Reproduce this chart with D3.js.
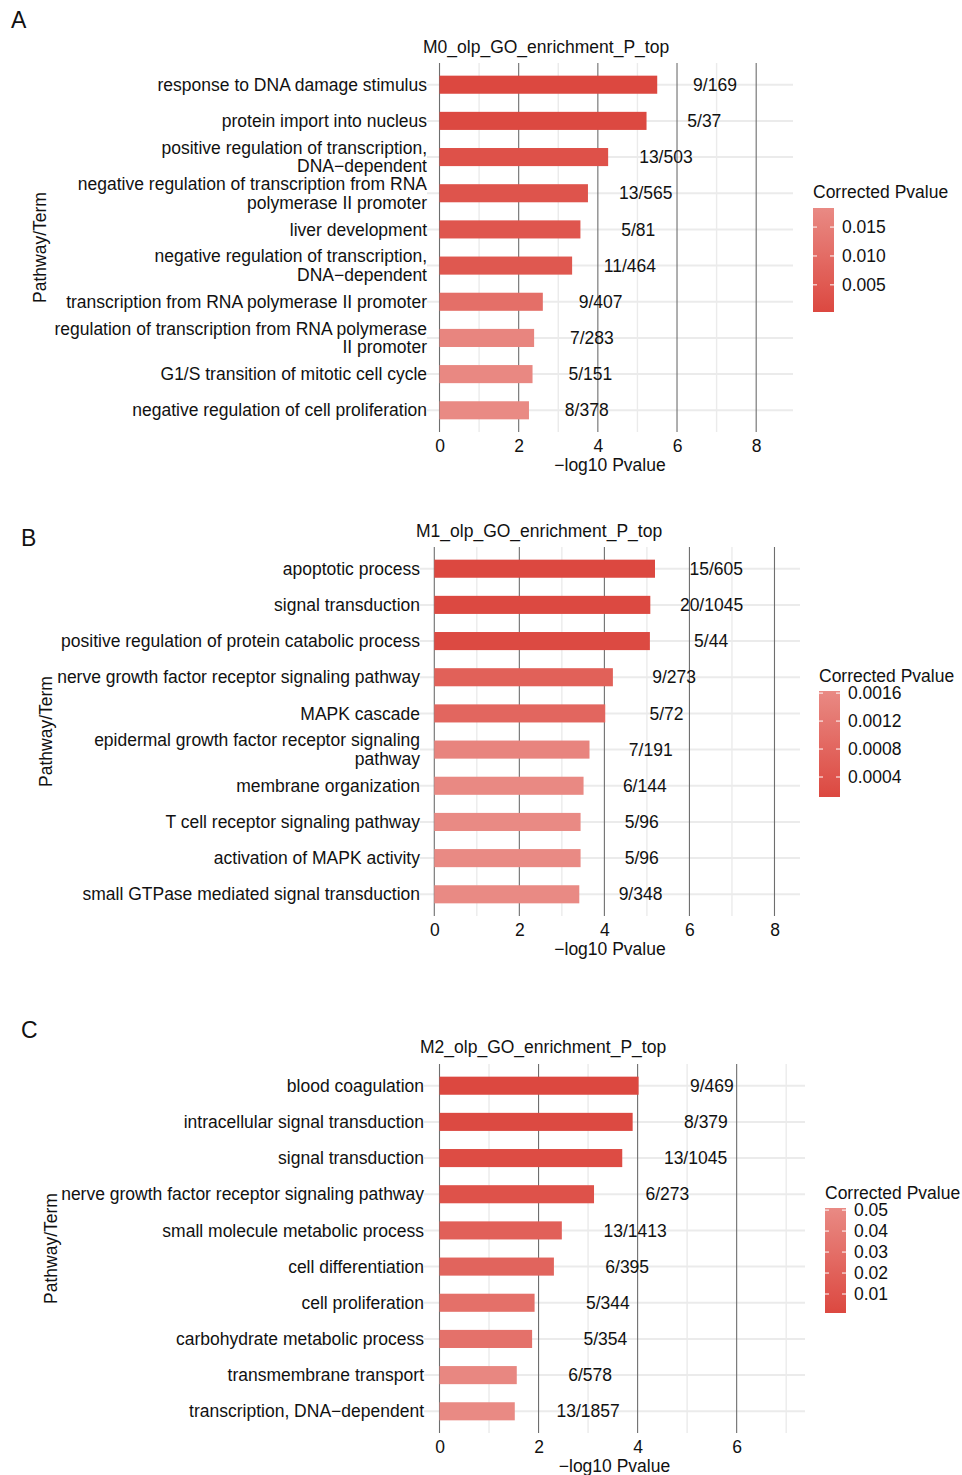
<!DOCTYPE html>
<html>
<head>
<meta charset="utf-8">
<script src="https://d3js.org/d3.v7.min.js"></script>
<style>
  * { margin: 0; padding: 0; }
  body { background: #fff; }
  text { font-family: "Liberation Sans", Arial, sans-serif; fill: #111; }
</style>
</head>
<body>
<div id="chart"></div>
<script>
// ---- data ----
const termsA = [
  "response to DNA damage stimulus",
  "protein import into nucleus",
  "positive regulation of transcription,\nDNA\u2212dependent",
  "negative regulation of transcription from RNA\npolymerase II promoter",
  "liver development",
  "negative regulation of transcription,\nDNA\u2212dependent",
  "transcription from RNA polymerase II promoter",
  "regulation of transcription from RNA polymerase\nII promoter",
  "G1/S transition of mitotic cell cycle",
  "negative regulation of cell proliferation"
];
const logpA = [5.50, 5.23, 4.26, 3.75, 3.56, 3.35, 2.61, 2.39, 2.35, 2.26];
const padjA = [0.0003, 0.0005, 0.0028, 0.0036, 0.0040, 0.0046, 0.0110, 0.0170, 0.0178, 0.0183];
const ratioA = ["9/169", "5/37", "13/503", "13/565", "5/81", "11/464", "9/407", "7/283", "5/151", "8/378"];
const legendTicksA = [0.005, 0.010, 0.015];

const termsB = [
  "apoptotic process",
  "signal transduction",
  "positive regulation of protein catabolic process",
  "nerve growth factor receptor signaling pathway",
  "MAPK cascade",
  "epidermal growth factor receptor signaling\npathway",
  "membrane organization",
  "T cell receptor signaling pathway",
  "activation of MAPK activity",
  "small GTPase mediated signal transduction"
];
const logpB = [5.19, 5.08, 5.07, 4.20, 4.02, 3.65, 3.51, 3.44, 3.44, 3.41];
const padjB = [0.000114, 0.00014, 0.00015, 0.00068, 0.00080, 0.00150, 0.00160, 0.00162, 0.00162, 0.00163];
const ratioB = ["15/605", "20/1045", "5/44", "9/273", "5/72", "7/191", "6/144", "5/96", "5/96", "9/348"];
const legendTicksB = [0.0004, 0.0008, 0.0012, 0.0016];

const termsC = [
  "blood coagulation",
  "intracellular signal transduction",
  "signal transduction",
  "nerve growth factor receptor signaling pathway",
  "small molecule metabolic process",
  "cell differentiation",
  "cell proliferation",
  "carbohydrate metabolic process",
  "transmembrane transport",
  "transcription, DNA\u2212dependent"
];
const logpC = [4.02, 3.90, 3.69, 3.12, 2.47, 2.31, 1.92, 1.87, 1.56, 1.52];
const padjC = [0.00095, 0.0021, 0.0037, 0.0085, 0.019, 0.022, 0.031, 0.032, 0.049, 0.051];
const ratioC = ["9/469", "8/379", "13/1045", "6/273", "13/1413", "6/395", "5/344", "5/354", "6/578", "13/1857"];
const legendTicksC = [0.01, 0.02, 0.03, 0.04, 0.05];

const lowColor = "#dc4840", highColor = "#e98a84";
const fs = "17.5px";

const svg = d3.select("#chart").append("svg")
  .attr("width", 962).attr("height", 1475);

function drawPanel(p) {
  const g = svg.append("g");

  const x = d3.scaleLinear().domain(p.xDomain).range([p.left, p.right]);
  const y = d3.scalePoint().domain(p.terms).range([p.top, p.bottom]).padding(0.6);
  const barH = y.step() * 0.5;
  const color = d3.scaleLinear().domain(d3.extent(p.padj)).range([lowColor, highColor]);

  // horizontal grid
  g.selectAll(".hgrid").data(p.terms).join("line")
    .attr("x1", p.left).attr("x2", p.right)
    .attr("y1", d => y(d)).attr("y2", d => y(d))
    .attr("stroke", "#ebebeb").attr("stroke-width", 2);

  // vertical grid: minor light, major dark
  const lo = Math.ceil(p.xDomain[0]), hi = Math.floor(p.xDomain[1]);
  const ints = d3.range(lo, hi + 1);
  g.selectAll(".vgrid").data(ints).join("line")
    .attr("x1", d => x(d)).attr("x2", d => x(d))
    .attr("y1", p.top).attr("y2", p.bottom)
    .attr("stroke", d => d % 2 === 0 ? "#6e6e6e" : "#ebebeb")
    .attr("stroke-width", d => d % 2 === 0 ? 1.1 : 1.4);

  // bars
  g.selectAll(".bar").data(p.terms).join("rect")
    .attr("x", x(0))
    .attr("y", d => y(d) - barH / 2)
    .attr("width", (d, i) => x(p.vals[i]) - x(0))
    .attr("height", barH)
    .attr("fill", (d, i) => color(p.padj[i]));

  // count labels
  g.selectAll(".ratio").data(p.terms).join("text")
    .attr("x", (d, i) => x(p.vals[i] + p.labelOffset))
    .attr("y", d => y(d))
    .attr("dy", "0.35em")
    .attr("text-anchor", "middle")
    .style("font-size", fs)
    .text((d, i) => p.ratios[i]);

  // category labels
  const lab = g.selectAll(".term").data(p.terms).join("text")
    .attr("text-anchor", "end")
    .style("font-size", fs);
  lab.each(function (d) {
    const lines = d.split("\n");
    const t = d3.select(this);
    lines.forEach((ln, k) => {
      t.append("tspan")
        .attr("x", p.left)
        .attr("y", y(d) + (k - (lines.length - 1) / 2) * 18.5)
        .attr("dy", "0.35em")
        .text(ln);
    });
  });

  // x tick labels
  const xAxis = d3.axisBottom(x).tickValues(d3.range(0, hi + 1, 2)).tickSize(0).tickPadding(0);
  const ax = g.append("g").attr("transform", `translate(0,${p.tickY})`).call(xAxis);
  ax.select(".domain").remove();
  ax.selectAll("text").style("font-size", fs).attr("fill", "#111").attr("dy", 0).attr("y", 0)
    .style("font-family", '"Liberation Sans", Arial, sans-serif');

  // axis titles
  g.append("text").attr("x", (p.left + p.right) / 2).attr("y", p.axisTitleY)
    .attr("text-anchor", "middle").style("font-size", fs).text("\u2212log10 Pvalue");
  g.append("text").attr("transform", `translate(${p.yTitleX},${(p.top + p.bottom) / 2}) rotate(-90)`)
    .attr("text-anchor", "middle").style("font-size", fs).text("Pathway/Term");

  // plot title
  g.append("text").attr("x", p.left - 4).attr("y", p.titleY)
    .style("font-size", fs).text(p.title);

  // panel letter
  g.append("text").attr("x", p.letterX).attr("y", p.letterY)
    .style("font-size", "23px").text(p.letter);

  // legend
  const ly = d3.scaleLinear().domain(d3.extent(p.padj)).range([p.legBottom, p.legTop]);
  const gid = "grad" + p.letter;
  const grad = svg.append("defs").append("linearGradient").attr("id", gid)
    .attr("x1", 0).attr("y1", 1).attr("x2", 0).attr("y2", 0);
  d3.range(0, 1.01, 0.1).forEach(t => {
    const v = ly.domain()[0] + t * (ly.domain()[1] - ly.domain()[0]);
    grad.append("stop").attr("offset", t).attr("stop-color", color(v));
  });
  const legW = 21;
  g.append("rect").attr("x", p.legX).attr("y", p.legTop)
    .attr("width", legW).attr("height", p.legBottom - p.legTop)
    .attr("fill", `url(#${gid})`);
  p.legendTicks.forEach(v => {
    [[p.legX, p.legX + 4], [p.legX + legW - 4, p.legX + legW]].forEach(([a, b]) => {
      g.append("line").attr("x1", a).attr("x2", b).attr("y1", ly(v)).attr("y2", ly(v))
        .attr("stroke", "#fff").attr("stroke-width", 1);
    });
  });
  g.selectAll(".legtick").data(p.legendTicks).join("text")
    .attr("x", p.legX + legW + 8).attr("y", d => ly(d)).attr("dy", "0.35em")
    .style("font-size", fs).text(d => d3.format(p.legendFormat)(d));
  g.append("text").attr("x", p.legX).attr("y", p.legTitleY)
    .style("font-size", fs).text("Corrected Pvalue");
}

drawPanel({
  letter: "A", letterX: 11, letterY: 28,
  title: "M0_olp_GO_enrichment_P_top",
  terms: termsA, vals: logpA, padj: padjA, ratios: ratioA, legendTicks: legendTicksA, legendFormat: ".3f",
  top: 63, bottom: 432, left: 427, right: 793, xDomain: [-0.316, 8.93], labelOffset: 1.46,
  titleY: 53, tickY: 452, axisTitleY: 471, yTitleX: 46,
  legX: 813, legTop: 208, legBottom: 312, legTitleY: 198
});

drawPanel({
  letter: "B", letterX: 21, letterY: 546,
  title: "M1_olp_GO_enrichment_P_top",
  terms: termsB, vals: logpB, padj: padjB, ratios: ratioB, legendTicks: legendTicksB, legendFormat: ".4f",
  top: 547, bottom: 916, left: 420, right: 800, xDomain: [-0.336, 8.6], labelOffset: 1.44,
  titleY: 537, tickY: 936, axisTitleY: 955, yTitleX: 52,
  legX: 819, legTop: 691, legBottom: 797, legTitleY: 682
});

drawPanel({
  letter: "C", letterX: 21, letterY: 1038,
  title: "M2_olp_GO_enrichment_P_top",
  terms: termsC, vals: logpC, padj: padjC, ratios: ratioC, legendTicks: legendTicksC, legendFormat: ".2f",
  top: 1064, bottom: 1433, left: 424, right: 805, xDomain: [-0.313, 7.38], labelOffset: 1.48,
  titleY: 1053, tickY: 1453, axisTitleY: 1472, yTitleX: 57,
  legX: 825, legTop: 1208, legBottom: 1313, legTitleY: 1199
});
</script>
</body>
</html>
